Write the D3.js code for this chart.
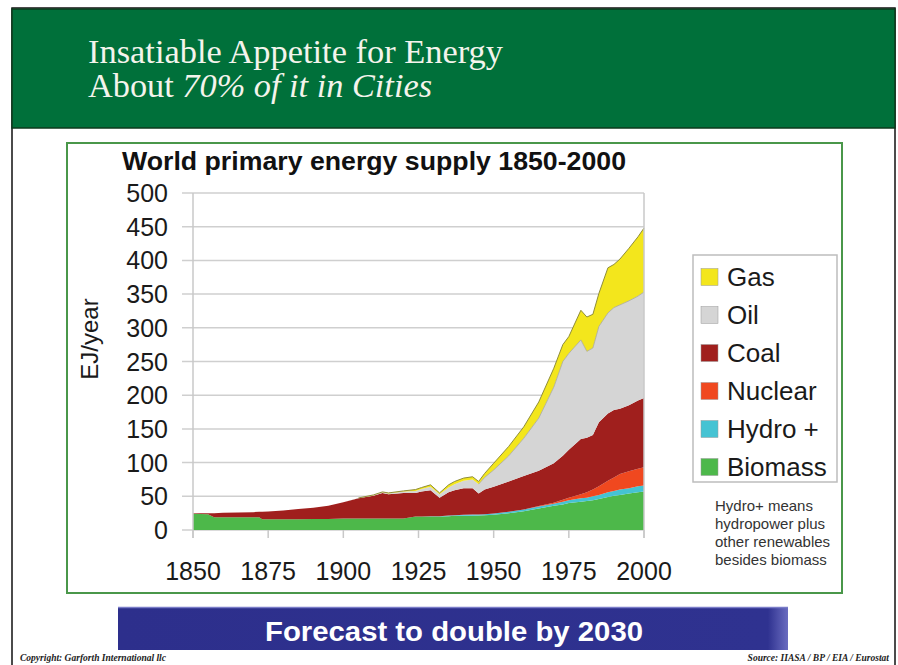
<!DOCTYPE html>
<html>
<head>
<meta charset="utf-8">
<script src="https://cdn.jsdelivr.net/npm/d3@7"></script>
<style>
  body { margin: 0; background: #fff; }
  svg { display: block; }
</style>
</head>
<body>
<script>
// data (EJ/year per source)
var years = [1850,1855,1857,1860,1865,1870,1872,1873,1875,1880,
             1885,1890,1895,1900,1905,1910,1913,1915,1920,1924,
             1926,1929,1932,1935,1937,1940,1943,1945,1947,1950,
             1955,1960,1965,1970,1973,1975,1979,1981,1983,1985,
             1988,1990,1992,1995,1998,2000];
var biomass = [24,23.5,19,19,19,19,19,16,16,16,
               16,16.5,16.5,17,17,17,17,17,17,20,
               20,20,20,20.5,21,21,21,21.5,22,22.5,
               25,28,32,36,38,40,42,43,44,46,
               49,51,52,54,56,57];
var hydro = [0,0,0,0,0,0,0,0,0,0,
             0,0,0,0,0,0,0,0,0,0,
             0,0.5,0.5,1,1,1.5,2,1.5,1.5,2,
             2,2.5,3,3,4,4,5,5,6,6,
             7,7,8,8,9,9];
var nuclear = [0,0,0,0,0,0,0,0,0,0,
               0,0,0,0,0,0,0,0,0,0,
               0,0,0,0,0,0,0,0,0,0,
               0,0,0.5,1.5,3,4,6,8,10,13,
               17,20,23,25,26,27];
var coal = [1,1.5,6,6.5,7,7.5,8,11,11.5,13,
            15,16.5,19.5,24,30,34,38,36,38,35,
            37,38.5,27.5,34.5,37,39.5,39,31,36.5,39.5,
            45,49.5,52.5,58.5,65,71,82,81,81,95,
            100,100,97,98,101,103];
var oil = [0,0,0,0,0,0,0,0,0,0,
           0,0,0,0,0.3,0.5,1,1,2,3,
           4,5,5,7,9,11,13,14,18,25,
           38,56,78,113,140,143,147,128,129,142,
           149,152,154,155,155,157];
var gas = [0,0,0,0,0,0,0,0,0,0,
           0,0,0,0,0.2,0.5,0.5,1,1,2,
           2,3,2,4,4,4,4,4,6,10,
           14,17,24,28,25,25,44,51,50,49,
           67,64,68,78,88,95];

var keys = ["biomass","hydro","nuclear","coal","oil","gas"];
var legendLabels = ["Gas","Oil","Coal","Nuclear","Hydro +","Biomass"];
var legendKeys = ["gas","oil","coal","nuclear","hydro","biomass"];
var yTicks = [0,50,100,150,200,250,300,350,400,450,500];
var xTicks = [1850,1875,1900,1925,1950,1975,2000];
var noteLines = ["Hydro+ means","hydropower plus","other renewables","besides biomass"];

var colors = {
  gas: "#f3e61c",
  oil: "#d5d5d5",
  coal: "#a01f1d",
  nuclear: "#f0481f",
  hydro: "#45c3d3",
  biomass: "#4db84a"
};

var svgWidth = 898;
var svgHeight = 665;

var svg = d3.select("body")
  .append("svg")
  .attr("width", svgWidth)
  .attr("height", svgHeight);

// slide frame + header
svg.append("rect")
  .attr("x", 12).attr("y", 8)
  .attr("width", 883).attr("height", 700)
  .attr("fill", "#fff")
  .attr("stroke", "#111")
  .attr("stroke-width", 1.5);

svg.append("rect")
  .attr("x", 12).attr("y", 9)
  .attr("width", 883).attr("height", 119)
  .attr("fill", "#00703a")
  .attr("stroke", "#0c3a1c")
  .attr("stroke-width", 1.5);

svg.append("text")
  .attr("x", 88).attr("y", 63)
  .attr("font-family", "Liberation Serif, Times New Roman, serif")
  .attr("font-size", 34)
  .attr("textLength", 415)
  .attr("lengthAdjust", "spacingAndGlyphs")
  .attr("fill", "#f4f4ec")
  .text("Insatiable Appetite for Energy");

var sub = svg.append("text")
  .attr("x", 88).attr("y", 97)
  .attr("font-family", "Liberation Serif, Times New Roman, serif")
  .attr("font-size", 34)
  .attr("textLength", 344)
  .attr("lengthAdjust", "spacingAndGlyphs")
  .attr("fill", "#f4f4ec");
sub.append("tspan").text("About ");
sub.append("tspan").attr("font-style", "italic").text("70% of it in Cities");

// chart panel
svg.append("rect")
  .attr("x", 67).attr("y", 143)
  .attr("width", 775).attr("height", 450)
  .attr("fill", "#fff")
  .attr("stroke", "#4a974a")
  .attr("stroke-width", 2);

svg.append("text")
  .attr("x", 122).attr("y", 170)
  .attr("font-family", "Liberation Sans, Arial, sans-serif")
  .attr("font-weight", "bold")
  .attr("font-size", 25)
  .attr("textLength", 504)
  .attr("lengthAdjust", "spacingAndGlyphs")
  .attr("fill", "#111")
  .text("World primary energy supply 1850-2000");

var plot = { left: 193, right: 644, top: 193, bottom: 530 };

var xScale = d3.scaleLinear()
  .domain([1850, 2000])
  .range([plot.left, plot.right]);

var yScale = d3.scaleLinear()
  .domain([0, 500])
  .range([plot.bottom, plot.top]);

// gridlines
var grid = svg.append("g");
grid.selectAll("line")
  .data(yTicks)
  .enter()
  .append("line")
  .attr("x1", plot.left - 11)
  .attr("x2", plot.right)
  .attr("y1", d => yScale(d))
  .attr("y2", d => yScale(d))
  .attr("stroke", "#cfcfcf")
  .attr("stroke-width", 1.5);

// stacked areas
var rows = years.map(function (yr, i) {
  return {
    year: yr, biomass: biomass[i], hydro: hydro[i], nuclear: nuclear[i],
    coal: coal[i], oil: oil[i], gas: gas[i]
  };
});

var series = d3.stack().keys(keys)(rows);

var area = d3.area()
  .x(d => xScale(d.data.year))
  .y0(d => yScale(d[0]))
  .y1(d => yScale(d[1]));

svg.append("g")
  .selectAll("path")
  .data(series)
  .enter()
  .append("path")
  .attr("d", area)
  .attr("fill", d => colors[d.key]);

// thin outline on top of the stack
var topLine = d3.line()
  .x(d => xScale(d.data.year))
  .y(d => yScale(d[1]));

svg.append("path")
  .datum(series[series.length - 1].filter(d => d.data.year >= 1905))
  .attr("d", topLine)
  .attr("fill", "none")
  .attr("stroke", "#8f8d3a")
  .attr("stroke-width", 1);

svg.append("path")
  .datum(series[4].filter(d => d.data.year >= 1945))
  .attr("d", topLine)
  .attr("fill", "none")
  .attr("stroke", "#a8a8a0")
  .attr("stroke-width", 0.8);

// axis frame lines
svg.append("line")
  .attr("x1", plot.left).attr("x2", plot.left)
  .attr("y1", plot.top).attr("y2", plot.bottom + 8)
  .attr("stroke", "#c8c8c8").attr("stroke-width", 1.5);
svg.append("line")
  .attr("x1", plot.right).attr("x2", plot.right)
  .attr("y1", plot.top).attr("y2", plot.bottom + 8)
  .attr("stroke", "#c8c8c8").attr("stroke-width", 1.5);

// x ticks + labels
var xAxis = svg.append("g");
xAxis.selectAll("line")
  .data(xTicks)
  .enter()
  .append("line")
  .attr("x1", d => xScale(d)).attr("x2", d => xScale(d))
  .attr("y1", plot.bottom).attr("y2", plot.bottom + 8)
  .attr("stroke", "#c8c8c8").attr("stroke-width", 1.5);
xAxis.selectAll("text")
  .data(xTicks)
  .enter()
  .append("text")
  .attr("x", d => xScale(d))
  .attr("y", 580)
  .attr("text-anchor", "middle")
  .attr("font-family", "Liberation Sans, Arial, sans-serif")
  .attr("font-size", 25)
  .attr("fill", "#1a1a1a")
  .text(d => d);

// y labels
svg.append("g")
  .selectAll("text")
  .data(yTicks)
  .enter()
  .append("text")
  .attr("x", 168)
  .attr("y", d => yScale(d) + 9)
  .attr("text-anchor", "end")
  .attr("font-family", "Liberation Sans, Arial, sans-serif")
  .attr("font-size", 25)
  .attr("fill", "#1a1a1a")
  .text(d => d);

svg.append("text")
  .attr("transform", "translate(98,339) rotate(-90)")
  .attr("text-anchor", "middle")
  .attr("font-family", "Liberation Sans, Arial, sans-serif")
  .attr("font-size", 24)
  .attr("fill", "#1a1a1a")
  .text("EJ/year");

// legend
var legend = svg.append("g");
legend.append("rect")
  .attr("x", 693).attr("y", 255)
  .attr("width", 144).attr("height", 227)
  .attr("fill", "#fff")
  .attr("stroke", "#bdbdbd")
  .attr("stroke-width", 1.5);

var items = legend.selectAll(".item")
  .data(legendKeys)
  .enter()
  .append("g")
  .attr("class", "item")
  .attr("transform", (d, i) => `translate(701, ${277 + i * 38})`);

items.append("rect")
  .attr("x", 0).attr("y", -8.5)
  .attr("width", 17).attr("height", 17)
  .attr("fill", d => colors[d])
  .attr("stroke", "#999")
  .attr("stroke-width", 0.5);

items.append("text")
  .attr("x", 26)
  .attr("y", 9)
  .attr("font-family", "Liberation Sans, Arial, sans-serif")
  .attr("font-size", 26)
  .attr("fill", "#1a1a1a")
  .text((d, i) => legendLabels[i]);

// note under legend
svg.append("g")
  .selectAll("text")
  .data(noteLines)
  .enter()
  .append("text")
  .attr("x", 715)
  .attr("y", (d, i) => 511 + i * 18)
  .attr("font-family", "Liberation Sans, Arial, sans-serif")
  .attr("font-size", 15)
  .attr("fill", "#333")
  .text(d => d);

// banner
var grad = svg.append("defs").append("linearGradient")
  .attr("id", "bannerGrad")
  .attr("x1", "0%").attr("x2", "100%");
grad.append("stop").attr("offset", "0%").attr("stop-color", "#2d2f8c");
grad.append("stop").attr("offset", "97%").attr("stop-color", "#2f3290");
grad.append("stop").attr("offset", "100%").attr("stop-color", "#6a6cc0");

svg.append("rect")
  .attr("x", 118).attr("y", 607)
  .attr("width", 670).attr("height", 43)
  .attr("fill", "url(#bannerGrad)");
svg.append("line")
  .attr("x1", 118).attr("x2", 788)
  .attr("y1", 607.5).attr("y2", 607.5)
  .attr("stroke", "#7a7cc8").attr("stroke-width", 1.5);

svg.append("text")
  .attr("x", 454).attr("y", 641)
  .attr("text-anchor", "middle")
  .attr("font-family", "Liberation Sans, Arial, sans-serif")
  .attr("font-weight", "bold")
  .attr("font-size", 27)
  .attr("textLength", 378)
  .attr("lengthAdjust", "spacingAndGlyphs")
  .attr("fill", "#fff")
  .text("Forecast to double by 2030");

// footer
svg.append("text")
  .attr("x", 20).attr("y", 661)
  .attr("font-family", "Liberation Serif, Times New Roman, serif")
  .attr("font-style", "italic")
  .attr("font-weight", "bold")
  .attr("font-size", 9.5)
  .attr("fill", "#222")
  .text("Copyright: Garforth International llc");

svg.append("text")
  .attr("x", 889).attr("y", 661)
  .attr("text-anchor", "end")
  .attr("font-family", "Liberation Serif, Times New Roman, serif")
  .attr("font-style", "italic")
  .attr("font-weight", "bold")
  .attr("font-size", 9.5)
  .attr("fill", "#222")
  .text("Source: IIASA / BP / EIA / Eurostat");
</script>
</body>
</html>
